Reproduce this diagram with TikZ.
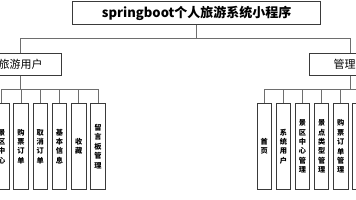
\documentclass[tikz,border=0pt]{standalone}
\usepackage{fontspec}
\setmainfont{Noto Sans CJK SC}
\usepackage{xcolor}
\usepackage{tikz}
\usetikzlibrary{positioning}
\definecolor{boxLine}{HTML}{3A3A3A}
\definecolor{busLine}{HTML}{6E6E6E}
\tikzset{
  topbox/.style={draw=boxLine, line width=0.9pt, minimum width=248pt, minimum height=22.5pt,
    inner sep=0pt, font=\fontsize{13}{15}\selectfont\bfseries},
  rolebox/.style={draw=boxLine, line width=0.9pt, minimum width=82pt, minimum height=22pt,
    inner sep=0pt, font=\fontsize{11}{13}\selectfont},
  leafbox/.style={draw=boxLine, line width=0.9pt, minimum width=14.5pt, minimum height=86.5pt,
    inner sep=0pt, align=center, font=\fontsize{7.2}{9.4}\selectfont\bfseries},
  bus/.style={draw=busLine, line width=1pt},
}
\begin{document}
\begin{tikzpicture}[x=1pt, y=-1pt]
  \useasboundingbox (0,0) rectangle (356,200);
  \clip (0,0) rectangle (356,200);
  % tree nodes
  \node[topbox] (title) at (196.7,13) {springboot个人旅游系统小程序};
  \node[rolebox] (user) at (20.7,64.2) {旅游用户};
  \node[rolebox] (admin) at (350,64.2) {管理员};
  \foreach \i/\lab in {0/景\\区\\中\\心, 1/购\\票\\订\\单, 2/取\\消\\订\\单,
      3/基\\本\\信\\息, 4/收\\藏, 5/留\\言\\板\\管\\理} {
    \node[leafbox] (u\i) at ({1.8+19.25*\i},146.5) {\lab};
  }
  \foreach \i/\lab in {0/首\\页, 1/系\\统\\用\\户, 2/景\\区\\中\\心\\管\\理,
      3/景\\点\\类\\型\\管\\理, 4/购\\票\\订\\单\\管\\理, 5/{}} {
    \node[leafbox] (a\i) at ({264.2+19.15*\i},146.5) {\lab};
  }
  % connectors
  \coordinate (top bus) at (196.7,38.5);
  \draw[bus] (title.south) -- (top bus);
  \draw[bus] (top bus) -| (user.north);
  \draw[bus] (top bus) -| (admin.north);
  \coordinate (user bus) at (20.7,89.3);
  \coordinate (admin bus) at (350,89.3);
  \draw[bus] (user.south) -- (user bus);
  \draw[bus] (admin.south) -- (admin bus);
  \foreach \i in {0,...,5} {
    \draw[bus] (user bus) -| (u\i.north);
    \draw[bus] (admin bus) -| (a\i.north);
  }
\end{tikzpicture}
\end{document}
